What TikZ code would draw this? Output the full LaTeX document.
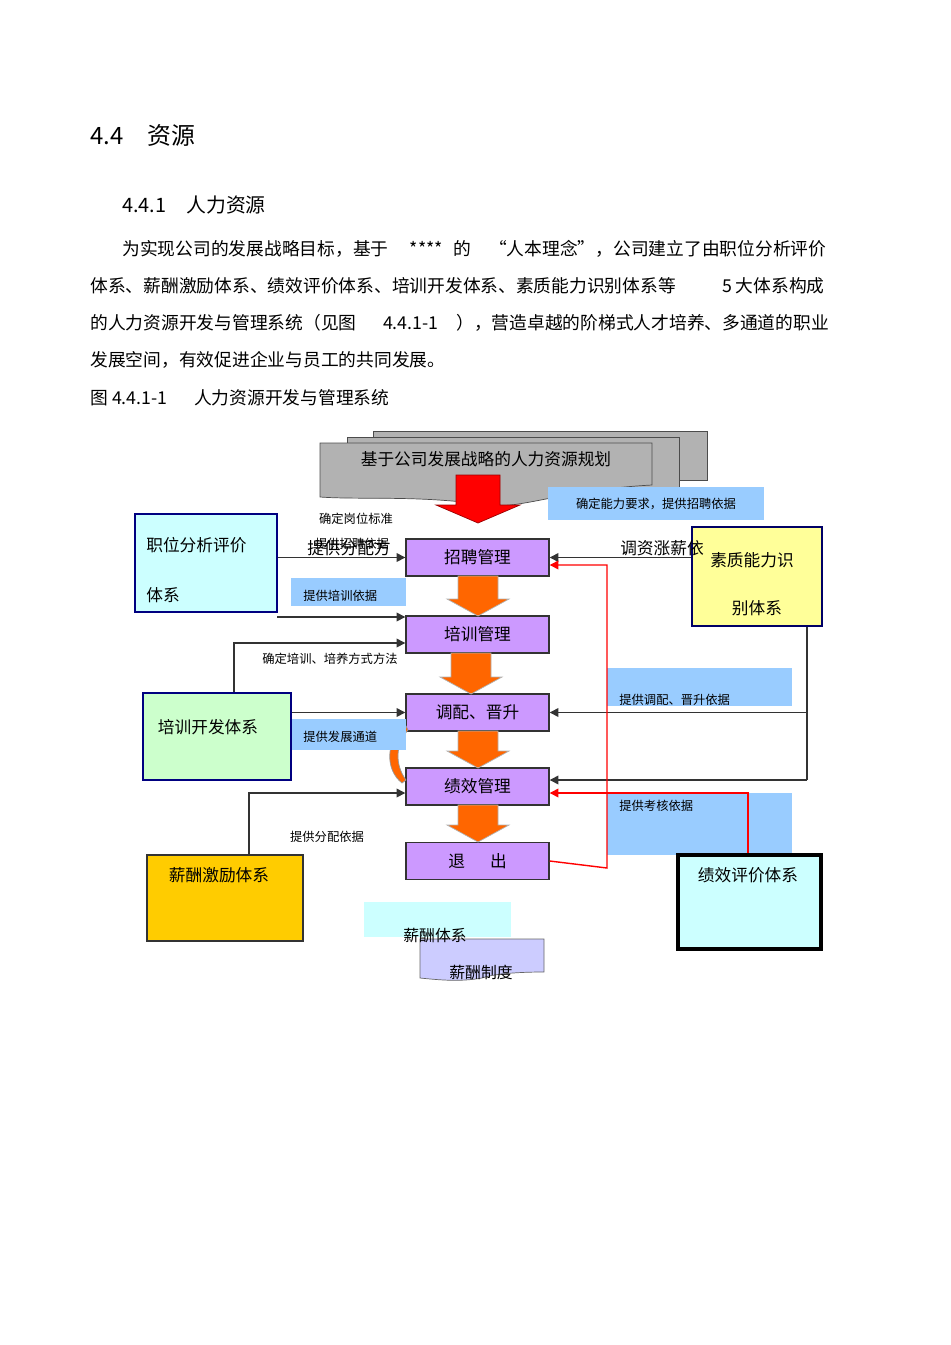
\documentclass[tikz,border=0pt]{standalone}
\usepackage{fontspec}
\setmainfont{Noto Sans CJK SC}
\usetikzlibrary{positioning}
\usetikzlibrary{arrows.meta}
\definecolor{purp}{HTML}{CC99FF}
\definecolor{lblue}{HTML}{99CCFF}
\definecolor{lcyan}{HTML}{CCFFFF}
\definecolor{lgreen}{HTML}{CCFFCC}
\definecolor{lyell}{HTML}{FFFF99}
\definecolor{gold}{HTML}{FFCC00}
\definecolor{orng}{HTML}{FF6600}
\newdimen\pxu \pxu=0.02cm
\tikzset{
  stage/.style={draw=black!80, line width=0.8pt, fill=purp, minimum width=143\pxu, minimum height=37\pxu, inner sep=0pt, font=\fontsize{9.5}{10}\selectfont},
  sysbox/.style={line width=1.3pt, inner sep=0pt},
  tag/.style={fill=lblue, inner sep=0pt, font=\fontsize{7}{8}\selectfont},
  note/.style={font=\fontsize{7}{8}\selectfont, inner sep=0pt},
  link/.style={black!80, line width=0.8pt, -{Triangle[length=5pt,width=5pt]}},
  rlink/.style={red, line width=0.8pt, -{Triangle[length=5pt,width=5pt]}},
  body/.style={anchor=west, inner sep=0pt, font=\fontsize{10.1}{11}\selectfont},
}
\newcommand{\downarrowshape}[4]{% x, top y, bottom y, colour
  \fill[#4, draw=black!30] (#1-20,#2) -- (#1+20,#2) -- (#1+20,#3-17) -- (#1+31,#3-17) -- (#1,#3) -- (#1-31,#3-17) -- (#1-20,#3-17) -- cycle;}
\begin{document}
\begin{tikzpicture}[x=0.02cm,y=-0.02cm]
\useasboundingbox (0,0) rectangle (950,1345);

% text above
\node[anchor=west, inner sep=0pt, font=\fontsize{13.6}{15}\selectfont] (h1) at (90,135) {4.4\hspace{1em}资源};
\node[anchor=west, inner sep=0pt, font=\fontsize{11.3}{13}\selectfont] (h2) at (122,205) {4.4.1\hspace{1em}人力资源};
\node[body] (p1) at (122,249) {为实现公司的发展战略目标，基于\hspace{1.2em}****\hspace{0.6em}的\hspace{1em}“人本理念”，公司建立了由职位分析评价};
\node[body] (p2) at (90,286) {体系、薪酬激励体系、绩效评价体系、培训开发体系、素质能力识别体系等\hspace{2.6em}5 大体系构成};
\node[body] (p3) at (90,323) {的人力资源开发与管理系统（见图\hspace{1.5em}4.4.1-1\hspace{1em}），营造卓越的阶梯式人才培养、多通道的职业};
\node[body] (p4) at (90,360) {发展空间，有效促进企业与员工的共同发展。};
\node[body] (cap) at (90,398) {图 4.4.1-1\hspace{1.5em}人力资源开发与管理系统};

% planning documents
\draw[fill=black!30, draw=black!70] (373,431) rectangle (707,480);
\draw[fill=black!30, draw=black!70] (347,437) rectangle (679,490);
\draw[fill=black!30, draw=black!70] (320,443) -- (652,443) -- (652,485) .. controls (560,490) and (520,510) .. (486,505) .. controls (420,495) and (360,500) .. (320,497) -- cycle;
\node[font=\fontsize{9.5}{10}\selectfont, inner sep=0pt] (plan) at (486,459) {基于公司发展战略的人力资源规划};
\fill[red, draw=red!60!black] (456,475) -- (500,475) -- (500,505) -- (520,505) -- (478,523) -- (436,505) -- (456,505) -- cycle;

% steps
\node[stage] (zp) at (477.5,557.5) {招聘管理};
\node[stage] (px) at (477.5,634.5) {培训管理};
\node[stage] (dp) at (477.5,712.5) {调配、晋升};
\node[stage] (jx) at (477.5,786.5) {绩效管理};
\node[stage] (tc) at (477.5,861) {退\hspace{1.5em}出};
\downarrowshape{478}{576}{616}{orng}
\downarrowshape{471}{653}{694}{orng}
\downarrowshape{478}{731}{768}{orng}
\downarrowshape{478}{805}{842}{orng}
% curved arrow
\fill[orng, draw=black!40] (406,726) .. controls (385,740) and (385,770) .. (402,783) -- (406,780) .. controls (395,765) and (395,745) .. (408,730) -- cycle;

% label boxes
\node[tag, minimum width=216\pxu, minimum height=33\pxu] (t1) at (656,503.5) {确定能力要求，提供招聘依据};
\node[tag, minimum width=115\pxu, minimum height=28\pxu, anchor=north west] (t2) at (291,578) {};
\node[note, anchor=west] at (303,596) {提供培训依据};
\node[tag, minimum width=185\pxu, minimum height=38\pxu, anchor=north west] (t3) at (607,668) {};
\node[note, anchor=west] at (619,700) {提供调配、晋升依据};
\node[tag, minimum width=115\pxu, minimum height=31\pxu, anchor=north west] (t4) at (291,719) {};
\node[note, anchor=west] at (303,737) {提供发展通道};
\node[tag, minimum width=185\pxu, minimum height=62\pxu, anchor=north west] (t5) at (607,793) {};
\node[note, anchor=west] at (619,806) {提供考核依据};

% systems
\node[sysbox, draw=blue!50!black, fill=lcyan, minimum width=142\pxu, minimum height=98\pxu] (zw) at (206,563) {};
\node[anchor=west, font=\fontsize{9.5}{10}\selectfont, inner sep=0pt] at (146,545) {职位分析评价};
\node[anchor=west, font=\fontsize{9.5}{10}\selectfont, inner sep=0pt] at (146,595) {体系};
\node[sysbox, draw=blue!40!black, fill=lyell, minimum width=130\pxu, minimum height=99\pxu] (sz) at (757,576.5) {};
\node[font=\fontsize{9.5}{10}\selectfont, inner sep=0pt] at (752,560) {素质能力识};
\node[font=\fontsize{9.5}{10}\selectfont, inner sep=0pt] at (757,608) {别体系};
\node[sysbox, draw=blue!50!black, fill=lgreen, minimum width=148\pxu, minimum height=87\pxu] (pk) at (217,736.5) {};
\node[font=\fontsize{9.5}{10}\selectfont, inner sep=0pt] at (208,727) {培训开发体系};
\node[sysbox, draw=black!80, fill=gold, minimum width=156\pxu, minimum height=86\pxu] (xc) at (225,898) {};
\node[font=\fontsize{9.5}{10}\selectfont, inner sep=0pt] at (219,875) {薪酬激励体系};
\node[sysbox, draw=black, line width=1.8pt, fill=lcyan, minimum width=143\pxu, minimum height=94\pxu] (jp) at (749.5,902) {};
\node[font=\fontsize{9.5}{10}\selectfont, inner sep=0pt] at (748,875) {绩效评价体系};

% salary
\node[fill=lcyan, minimum width=147\pxu, minimum height=35\pxu, inner sep=0pt] (xt) at (437.5,919.5) {};
\draw[fill=blue!20, draw=black!60] (420,939) -- (544,939) -- (544,972) .. controls (510,972) and (490,975) .. (482,978) .. controls (460,982) and (440,980) .. (420,978) -- cycle;
\node[font=\fontsize{9}{10}\selectfont, inner sep=0pt] at (435,936) {薪酬体系};
\node[font=\fontsize{9}{10}\selectfont, inner sep=0pt] at (481,972) {薪酬制度};

% connectors
\draw[link] (zw.east |- zp.west) -- (zp.west);
\draw[link] (277,617) -- (px.west |- 0,617);
\draw[link] (pk.north -| 234,0) |- (px.west |- 0,643);
\draw[link] (pk.east |- dp.west) -- (dp.west);
\draw[link] (xc.north -| 249,0) |- (jx.west |- 0,793);
\draw[link] (sz.west |- zp.east) -- (zp.east);
\draw[black!80, line width=0.8pt] (sz.south -| 807,0) -- (807,780);
\draw[link] (807,712.5) -- (dp.east);
\draw[link] (807,780) -- (jx.east |- 0,780);
\draw[rlink] (tc.east) -- (607,868) -- (607,565) -- (zp.east |- 0,565);
\draw[rlink] (jp.north -| 748,0) |- (jx.east |- 0,793);

% notes
\node[note] at (356,519) {确定岗位标准};
\node[note] at (352,544) {提供招聘依据};
\node[font=\fontsize{9.5}{10}\selectfont, inner sep=0pt] at (349,548) {提供分配方};
\node[font=\fontsize{9.5}{10}\selectfont, inner sep=0pt] at (662,548) {调资涨薪依};
\node[note] at (330,659) {确定培训、培养方式方法};
\node[note] at (327,837) {提供分配依据};
\end{tikzpicture}
\end{document}
